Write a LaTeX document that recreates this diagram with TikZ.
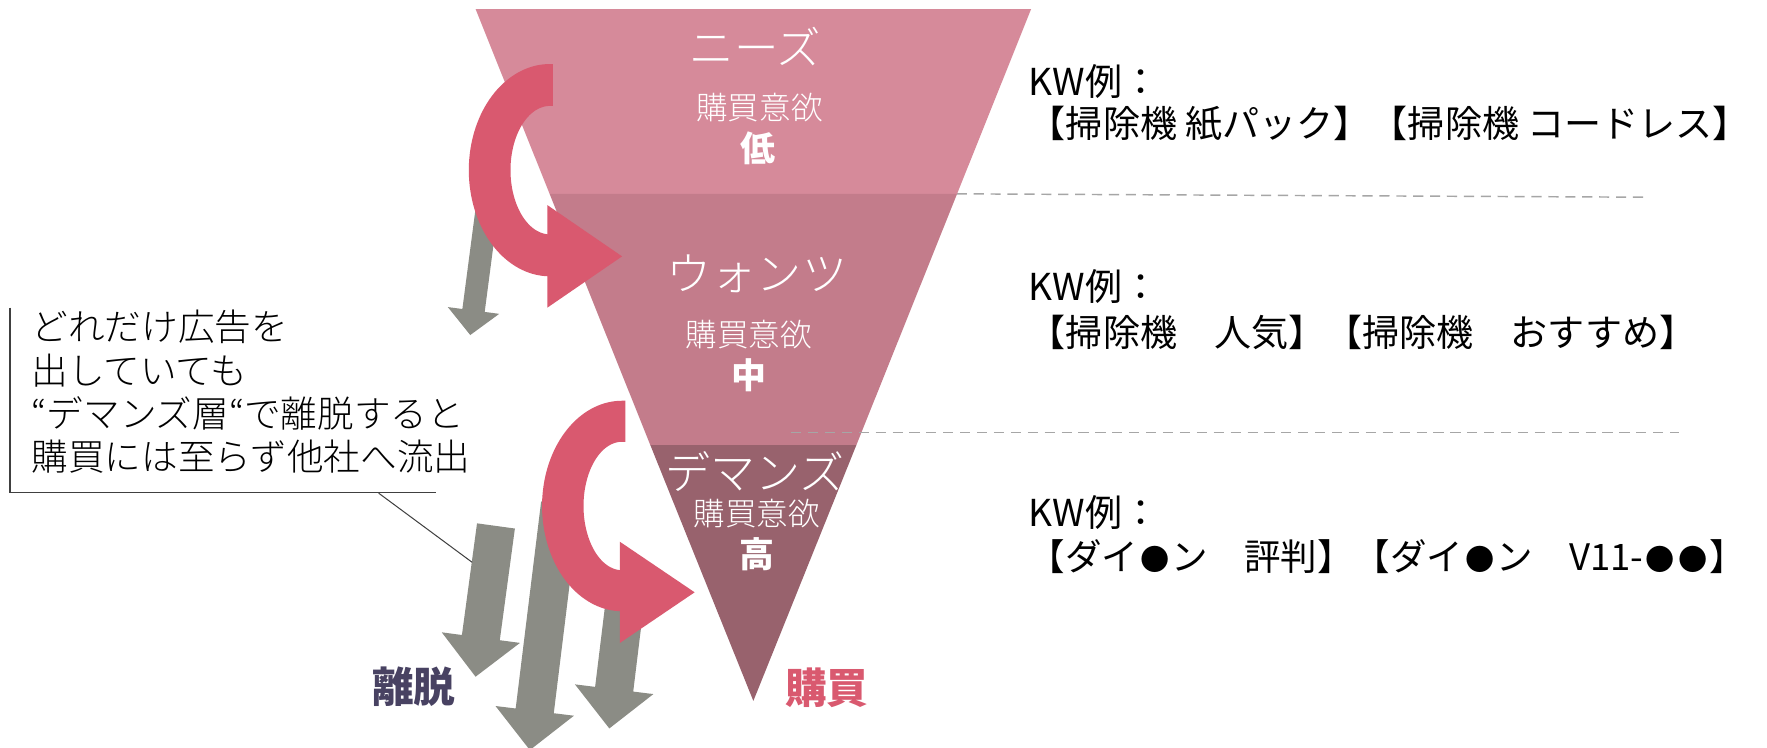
\documentclass[tikz,border=0pt]{standalone}
\usepackage{fontspec}
\setmainfont{Noto Sans CJK JP}
\newfontfamily\lightjp{Noto Sans CJK JP Light}
\definecolor{bandA}{RGB}{214,138,154}
\definecolor{bandB}{RGB}{195,124,139}
\definecolor{bandC}{RGB}{152,98,109}
\definecolor{pinkarrow}{RGB}{217,89,111}
\definecolor{grayarrow}{RGB}{139,140,133}
\definecolor{leavecol}{RGB}{72,66,98}
\definecolor{dashgray}{RGB}{166,166,166}
\definecolor{calloutgray}{RGB}{64,64,64}
\newcommand\myfs[1]{\fontsize{#1pt}{#1pt}\selectfont}
\newcommand\kwdot{\makebox[0.9em]{\scalebox{0.8}{●}}}
\newcommand\kwend{\makebox[0.5em][l]{】}}
\tikzset{
  txt/.style={inner sep=0pt, outer sep=0pt},
  wtxt/.style={txt, text=white},
  dashline/.style={draw=dashgray, line width=1.3pt, dash pattern=on 9pt off 6pt},
  pinkfill/.style={fill=pinkarrow, draw=none},
  grayfill/.style={fill=grayarrow, draw=none},
  callout/.style={draw=calloutgray, line width=1.3pt},
  leader/.style={draw=calloutgray, line width=0.9pt},
  layer/.style={wtxt, font=\lightjp\myfs{40}},
  desire/.style={wtxt, font=\lightjp\myfs{28}},
  level/.style={wtxt, font=\myfs{31}\bfseries},
  result/.style={txt, font=\myfs{37}\bfseries},
  note/.style={txt, anchor=west, font=\lightjp\myfs{32.5}},
  kw/.style={txt, anchor=west, font=\myfs{32.9}},
}
\begin{document}
\begin{tikzpicture}[x=1pt,y=-1pt]
\useasboundingbox (0,0) rectangle (1568,663);
\fill[white] (0,0) rectangle (1568,663);

% dashed separators (first)
\coordinate (d1a) at (849,172);
\coordinate (d1b) at (1461,175);
\draw[dashline] (d1a) -- (d1b);

% funnel
\fill[bandA] (422,8) -- (915,8) -- (849.3,172) -- (487.7,172) -- cycle;
\fill[bandB] (487.7,172) -- (849.3,172) -- (759.9,395) -- (577.1,395) -- cycle;
\fill[bandC] (577.1,395) -- (759.9,395) -- (668.5,622) -- cycle;

\coordinate (d2a) at (702,383.6);
\coordinate (d2b) at (1490,383.6);
\draw[dashline] (d2a) -- (d2b);

% gray exit arrows
\fill[grayfill] (422.0,185.1) -- (410.3,274.2) -- (397.4,272.5) -- (417.3,297.3) -- (443.0,278.5) -- (430.1,276.8) -- (441.8,187.7) -- cycle;
\fill[grayfill] (423.3,464.4) -- (409.9,563.5) -- (392,561.1) -- (422,600.5) -- (461.4,570.5) -- (443.5,568.1) -- (456.9,469.0) -- cycle;
\fill[grayfill] (480.2,445.0) -- (457.6,628.7) -- (439.7,626.5) -- (470.2,665.6) -- (509.3,635.1) -- (491.4,632.9) -- (514.0,449.2) -- cycle;
\fill[grayfill] (539.3,517.9) -- (528.1,609.5) -- (510.2,607.3) -- (540.7,646.4) -- (579.8,615.9) -- (561.9,613.7) -- (573.1,522.1) -- cycle;

% pink curved arrows
\fill[pinkfill] (490.5,56.8) -- (488,56.8)
  -- plot[domain=90:270,samples=72] ({488+72*cos(\x)},{151-94.2*sin(\x)})
  -- plot[domain=270:90,samples=72] ({488+35*cos(\x)},{151-57*sin(\x)})
  -- (490.5,94) -- cycle;
\fill[pinkfill] (485.7,182) -- (552,227.5) -- (485.7,273) -- cycle;

\fill[pinkfill] (555,355.6) -- (552,355.6)
  -- plot[domain=90:270,samples=72] ({552+71*cos(\x)},{449-93.4*sin(\x)})
  -- plot[domain=270:90,samples=72] ({552+34.2*cos(\x)},{449-57*sin(\x)})
  -- (555,392) -- cycle;
\fill[pinkfill] (550,480.7) -- (616.4,525.6) -- (550,570.6) -- cycle;

% funnel labels
\node[layer, font=\lightjp\myfs{39.5}] (needs) at (670.5,41.5) {ニーズ};
\node[desire] (buy1) at (674,95.4) {購買意欲};
\node[level] (low) at (673,131.5) {低};
\node[layer] (wants) at (671.7,243) {ウォンツ};
\node[desire] (buy2) at (664.3,296.5) {購買意欲};
\node[level] (mid) at (664.5,333) {中};
\node[layer] (demands) at (670,418) {デマンズ};
\node[desire] (buy3) at (671.6,455.5) {購買意欲};
\node[level] (high) at (671.3,491.6) {高};

\node[result, text=leavecol] (leave) at (367.3,609) {離脱};
\node[result, text=pinkarrow] (purchase) at (733.7,610) {購買};

% callout
\node[note] (n1) at (28,290) {どれだけ広告を};
\node[note] (n2) at (28,328.5) {出していても};
\node[note] (n3) at (28,367) {“デマンズ層“で離脱すると};
\node[note] (n4) at (28,405.5) {購買には至らず他社へ流出};
\coordinate (cTop) at (9,273);
\coordinate (cCorner) at (9,437);
\coordinate (cEnd) at (387,437);
\coordinate (lStart) at (336,437.6);
\coordinate (lEnd) at (419,499);
\draw[callout] (cTop) -- (cCorner) -- (cEnd);
\draw[leader] (lStart) -- (lEnd);

% keyword examples
\node[kw] (k1) at (913,72) {KW例：};
\node[kw] (k1b) at (913,110) {【掃除機 紙パック】【掃除機 コードレス\kwend};
\node[kw] (k2) at (913,254) {KW例：};
\node[kw] (k2b) at (913,295) {【掃除機　人気】【掃除機　おすすめ\kwend};
\node[kw] (k3) at (913,455) {KW例：};
\node[kw, font=\myfs{32.4}] (k3b) at (913,494) {【ダイ\kwdot ン　評判】【ダイ\kwdot ン　V11-\kwdot\kwdot\kwend};
\end{tikzpicture}
\end{document}
